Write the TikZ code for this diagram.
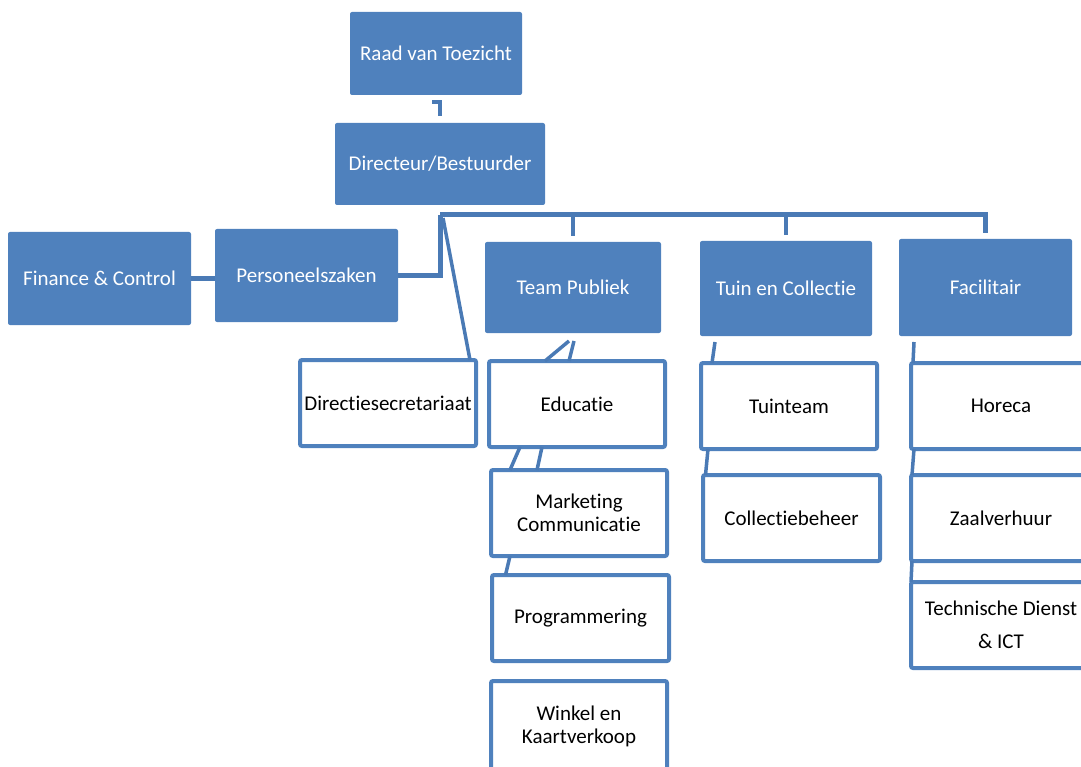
\documentclass[tikz,border=0pt]{standalone}
\usepackage{fontspec}
\setmainfont[Ligatures=NoCommon]{Carlito}
\usepackage{tikz}
\definecolor{orgblue}{HTML}{4F81BD}
\definecolor{linkblue}{HTML}{4A7AB5}

\begin{document}
\begin{tikzpicture}[x=1pt,y=-1pt,
  unit/.style={anchor=north west, inner sep=0pt, outer sep=0pt, rounded corners=2pt,
    align=center, font=\fontsize{21}{23}\selectfont},
  head/.style={unit, fill=orgblue, text=white},
  sub/.style={unit, draw=orgblue, line width=4pt, fill=white, text=black,
    minimum width=176pt, minimum height=86pt},
  link/.style={draw=linkblue, line width=5pt},
  drop/.style={draw=linkblue, line width=4pt},
  slant/.style={draw=linkblue, line width=3.5pt}]
  \clip (0,0) rectangle (1081,767);

  \node[head, minimum width=172pt, minimum height=83pt] (raad) at (350,12) {Raad van Toezicht};
  \node[head, minimum width=210pt, minimum height=82pt] (dir) at (335,123) {Directeur/Bestuurder};
  \node[head, minimum width=183pt, minimum height=93pt] (finance) at (8,232) {Finance \& Control};
  \node[head, minimum width=183pt, minimum height=93pt] (personeel) at (215,229) {Personeelszaken};
  \node[head, minimum width=176pt, minimum height=91pt] (publiek) at (485,242) {Team Publiek};
  \node[head, minimum width=172pt, minimum height=95pt] (tuin) at (700,241) {Tuin en Collectie};
  \node[head, minimum width=173pt, minimum height=97pt] (facilitair) at (899,239) {Facilitair};

  \node[sub] (dirsec) at (300,360) {Directiesecretariaat};
  \node[sub] (educatie) at (489,361) {Educatie};
  \node[sub] (marketing) at (491,470) {Marketing\\Communicatie};
  \node[sub, minimum width=177pt] (programmering) at (492,575) {Programmering};
  \node[sub, minimum height=90pt] (winkel) at (491,681) {Winkel en\\Kaartverkoop};
  \node[sub] (tuinteam) at (701,363) {Tuinteam};
  \node[sub, minimum width=177pt] (collectie) at (703,475) {Collectiebeheer};
  \node[sub, minimum width=180pt] (horeca) at (911,363) {Horeca};
  \node[sub, minimum width=180pt] (zaal) at (911,475) {Zaalverhuur};
  \node[sub, minimum width=180pt, font=\fontsize{21}{33}\selectfont] (tech) at (911,582) {Technische Dienst\\\& ICT};

  \coordinate (hub) at ([yshift=-10pt]dir.south);
  \draw[link, line width=3.5pt] ([xshift=-4pt,yshift=-7pt]raad.south) -| ([yshift=7pt]dir.north);
  \draw[link] (hub) |- (personeel.east);
  \draw[link] (hub) -| ([yshift=6pt]facilitair.north);
  \draw[drop] (publiek.north |- hub) -- ([yshift=6pt]publiek.north);
  \draw[drop] (tuin.north |- hub) -- ([yshift=6pt]tuin.north);
  \draw[link] (finance.east) -- (finance.east -| personeel.west);
  \draw[slant] ([xshift=3pt,yshift=-3pt]hub) -- ([xshift=-6pt]dirsec.north east);

  \draw[slant] ([xshift=-4pt,yshift=-8pt]publiek.south) -- ([xshift=-32pt]educatie.north);
  \draw[slant] ([xshift=1pt,yshift=-8pt]publiek.south) -- ([xshift=-8pt]educatie.north);
  \draw[slant] ([xshift=-57pt]educatie.south) -- ([xshift=-69pt]marketing.north);
  \draw[slant] ([xshift=-35pt]educatie.south) -- ([xshift=-42pt]marketing.north);
  \draw[slant] ([xshift=-69pt]marketing.south) -- ([xshift=-75pt]programmering.north);

  \draw[slant] ([xshift=-71pt,yshift=-6pt]tuin.south) -- ([xshift=-77pt]tuinteam.north);
  \draw[slant] ([xshift=-81pt]tuinteam.south) -- ([xshift=-86pt]collectie.north);

  \draw[slant] ([xshift=-71.5pt,yshift=-6pt]facilitair.south) -- ([xshift=-88pt]horeca.north);
  \draw[slant] ([xshift=-87pt]horeca.south) -- ([xshift=-89pt]zaal.north);
  \draw[slant] ([xshift=-89pt]zaal.south) -- ([xshift=-90pt]tech.north);
\end{tikzpicture}
\end{document}
